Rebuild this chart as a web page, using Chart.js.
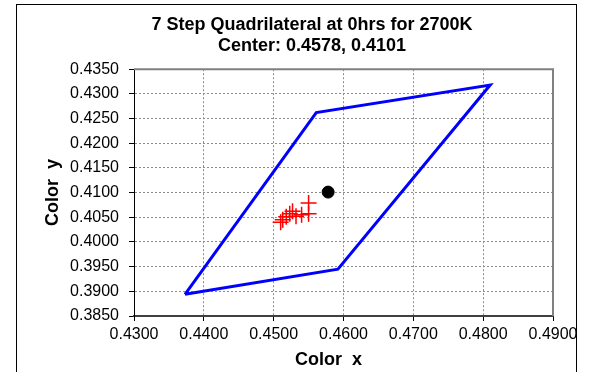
<!DOCTYPE html>
<html>
<head>
<meta charset="utf-8">
<title>7 Step Quadrilateral</title>
<script src="https://cdn.jsdelivr.net/npm/chart.js@4.4.1/dist/chart.umd.min.js"></script>
<style>
    html, body {
        margin: 0;
        padding: 0;
        background: #ffffff;
        overflow: hidden;
        width: 592px;
        height: 372px;
    }
    #frame {
        position: absolute;
        left: 16px;
        top: 4px;
        width: 559px;
        height: 400px;
        border: 1px solid #000000;
    }
    #chart {
        position: absolute;
        left: 0;
        top: 0;
    }
</style>
</head>
<body>
<div id="frame"></div>
<canvas id="chart" width="606" height="372"></canvas>

<script>
// =======================
// DATA
// =======================
// quadrilateral corners (closed back to the first one)
const quadX = [0.4373, 0.4561, 0.4810, 0.4592, 0.4373];
const quadY = [0.3894, 0.4262, 0.4318, 0.3945, 0.3894];

// center point
const centerX = [0.4578];
const centerY = [0.4101];

// measured samples (red crosses)
const sampleX = [0.4550, 0.4550, 0.4540, 0.4532, 0.4527, 0.4523, 0.4518, 0.4513, 0.4510];
const sampleY = [0.4079, 0.4057, 0.4055, 0.4052, 0.4062, 0.4057, 0.4051, 0.4045, 0.4040];

// tick labels
const xTickLabels = ['0.4300', '0.4400', '0.4500', '0.4600', '0.4700', '0.4800', '0.4900'];
const yTickLabels = ['0.3850', '0.3900', '0.3950', '0.4000', '0.4050', '0.4100',
                     '0.4150', '0.4200', '0.4250', '0.4300', '0.4350'];

const titleLines = ['7 Step Quadrilateral at 0hrs for 2700K', 'Center: 0.4578, 0.4101'];


// build {x, y} points
function toPoints(xs, ys) {
    return xs.map((x, i) => ({ x: x, y: ys[i] }));
}


// =======================
// PLOT FRAME (top + right edge)
// =======================
const plotFrame = {
    id: 'plotFrame',
    beforeDatasetsDraw(chart) {
        const a = chart.chartArea;
        const ctx = chart.ctx;
        ctx.save();
        ctx.strokeStyle = '#808080';
        ctx.lineWidth = 2;
        ctx.beginPath();
        ctx.moveTo(a.left, a.top);
        ctx.lineTo(a.right, a.top);
        ctx.lineTo(a.right, a.bottom);
        ctx.stroke();
        ctx.restore();
    }
};


// =======================
// DRAW CHART
// =======================
const font = "'Liberation Sans', Arial, sans-serif";
let ctx = document.getElementById('chart').getContext('2d');

let chart = new Chart(ctx, {
    type: 'scatter',
    data: {
        datasets: [
            {
                label: 'Samples',
                data: toPoints(sampleX, sampleY),
                pointStyle: 'cross',
                pointRadius: 8,
                borderColor: '#ff0000',
                borderWidth: 1.5,
                pointHoverRadius: 8
            },
            {
                label: 'Center',
                data: toPoints(centerX, centerY),
                pointStyle: 'circle',
                pointRadius: 6,
                backgroundColor: '#000000',
                borderColor: '#000000',
                pointHoverRadius: 6
            },
            {
                label: 'Quadrilateral',
                data: toPoints(quadX, quadY),
                showLine: true,
                fill: false,
                borderColor: '#0000ff',
                borderWidth: 3,
                pointRadius: 0,
                pointHoverRadius: 0,
                tension: 0
            }
        ]
    },
    options: {
        responsive: false,
        animation: false,
        events: [],
        layout: {
            padding: { left: 18, right: 0, top: 0, bottom: 0 }
        },
        plugins: {
            legend: { display: false },
            tooltip: { enabled: false },
            title: {
                display: true,
                text: titleLines,
                color: '#000000',
                font: { family: font, size: 18, weight: 'bold', lineHeight: 1.2 },
                padding: { top: 14, bottom: 12 }
            }
        },
        scales: {
            x: {
                type: 'linear',
                min: 0.43,
                max: 0.49,
                ticks: {
                    stepSize: 0.01,
                    color: '#000000',
                    padding: 4,
                    font: { family: font, size: 16 },
                    maxRotation: 0,
                    callback: (v, i) => xTickLabels[i]
                },
                grid: {
                    color: '#8c8c8c',
                    lineWidth: 1,
                    tickLength: 5,
                    tickColor: '#000000'
                },
                border: { color: '#404040', width: 2, dash: [2, 2] },
                title: {
                    display: true,
                    // trailing spaces pull the centred title left like the original
                    text: 'Color  x      ',
                    color: '#000000',
                    font: { family: font, size: 18, weight: 'bold', lineHeight: 1.2 },
                    padding: { top: 5, bottom: 1 }
                },
                afterFit(scale) { scale.height = 56; }
            },
            y: {
                type: 'linear',
                min: 0.385,
                max: 0.435,
                ticks: {
                    stepSize: 0.005,
                    color: '#000000',
                    padding: 10,
                    font: { family: font, size: 16 },
                    callback: (v, i) => yTickLabels[i]
                },
                grid: {
                    color: '#8c8c8c',
                    lineWidth: 1,
                    tickLength: 5,
                    tickColor: '#000000'
                },
                border: { color: '#000000', width: 1, dash: [2, 2] },
                title: {
                    display: true,
                    text: 'Color  y',
                    color: '#000000',
                    font: { family: font, size: 18, weight: 'bold', lineHeight: 1.2 },
                    padding: { top: 24, bottom: 0 }
                },
                afterFit(scale) { scale.width = 116; }
            },
            // empty right axis, only reserves space so the title sits where it should
            y2: {
                position: 'right',
                display: true,
                grid: { display: false },
                border: { display: false },
                ticks: { display: false },
                afterFit(scale) { scale.width = 53; }
            }
        }
    },
    plugins: [plotFrame]
});
</script>
</body>
</html>
